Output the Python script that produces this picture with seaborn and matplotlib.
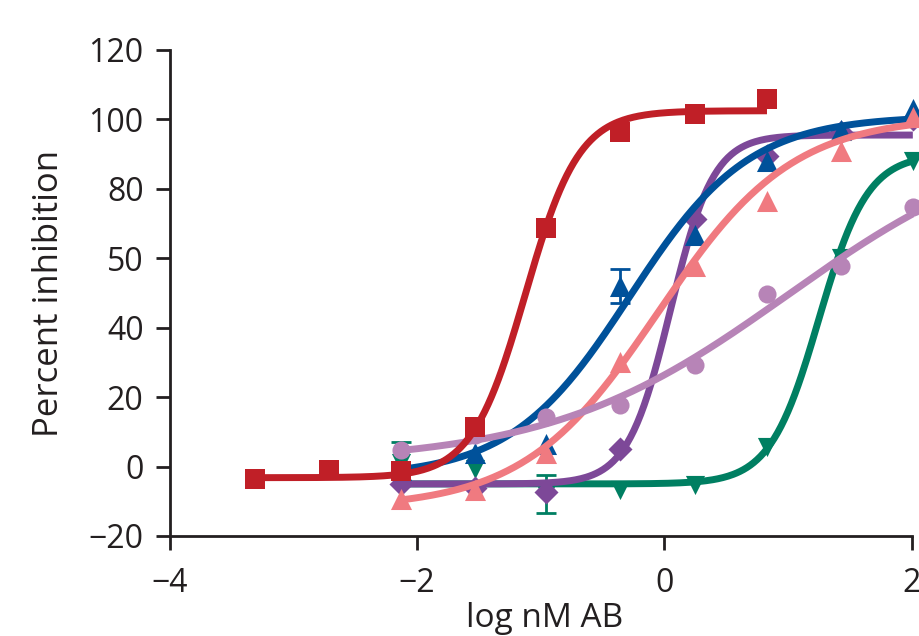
import numpy as np
import pandas as pd
import matplotlib
matplotlib.use("Agg")
import matplotlib.pyplot as plt
import seaborn as sns

# Concentrations (log nM) of the dilution series
x_red = [-3.31, -2.71, -2.13, -1.53, -0.96, -0.36, 0.25, 0.83]
x_std = [-2.13, -1.53, -0.96, -0.36, 0.25, 0.83, 1.43, 2.01]

# Mean percent inhibition per compound
y_red = [-3.5, -1.1, -1.2, 11.4, 68.8, 96.4, 101.6, 105.9]
y_blue = [-1.0, 4.0, 6.5, 52.0, 66.8, 88.0, 97.0, 103.0]
y_purple = [-5.0, -6.3, -7.3, 5.2, 71.4, 89.6, 96.3, 100.0]
y_pink = [-9.2, -6.8, 3.8, 30.1, 57.9, 76.6, 91.0, 100.6]
y_green = [1.0, -0.6, -8.0, -6.8, -5.4, 5.5, 60.0, 88.0]
y_lilac = [4.7, 9.0, 14.3, 17.6, 29.2, 49.8, 57.9, 74.7]

# Standard deviations (only the visible error bars)
err_blue = [0, 0, 0, 5.0, 0, 0, 0, 0]
err_green = [6.0, 0, 5.5, 0, 0, 0, 0, 0]

# Four-parameter logistic fits: bottom, top, logEC50, Hill slope
fit_red = [-3.2, 102.5, -1.125, 2.0]
fit_blue = [-3.0, 101.0, -0.28, 0.9]
fit_purple = [-5.0, 95.5, 0.05, 2.5]
fit_pink = [-12.0, 101.0, -0.05, 0.8]
fit_green = [-5.0, 90.0, 1.25, 2.2]
fit_lilac = [1.0, 98.0, 1.0, 0.45]

y_ticks = [-20, 0, 20, 40, 60, 80, 100, 120]
y_tick_labels = ["\u221220", "0", "20", "40", "50", "80", "100", "120"]
x_ticks = [-4, -2, 0, 2]
x_tick_labels = ["\u22124", "\u22122", "0", "2"]


def logistic(x, p):
    bottom, top, c, h = p
    return bottom + (top - bottom) / (1.0 + 10.0 ** (h * (c - x)))


sns.set_theme(style="ticks")
plt.rcParams["font.family"] = ["Open Sans", "DejaVu Sans"]
ink = "#231f20"

fig = plt.figure(figsize=(9.2, 6.36), dpi=100)
ax = fig.add_axes([170 / 920, 100 / 636, 750 / 920, 486 / 636])

series = [
    # name, x, y, err, fit, colour, marker, size, zorder
    ("green", x_std, y_green, err_green, fit_green, "#007f62", "v", 190, 2),
    ("purple", x_std, y_purple, None, fit_purple, "#7d4898", "D", 150, 3),
    ("blue", x_std, y_blue, err_blue, fit_blue, "#00519a", "^", 230, 4),
    ("pink", x_std, y_pink, None, fit_pink, "#f07a80", "^", 230, 5),
    ("lilac", x_std, y_lilac, None, fit_lilac, "#b784b7", "o", 170, 6),
    ("red", x_red, y_red, None, fit_red, "#c01f27", "s", 200, 7),
]

for name, xs, ys, errs, fit, col, mk, sz, z in series:
    xx = np.linspace(min(xs), max(xs), 300)
    curve = pd.DataFrame({"x": xx, "y": logistic(xx, fit)})
    sns.lineplot(data=curve, x="x", y="y", color=col, lw=5.0, ax=ax,
                 zorder=z, solid_capstyle="butt")
    if errs is not None:
        for xi, yi, ei in zip(xs, ys, errs):
            if ei > 0:
                ax.errorbar([xi], [yi], yerr=[ei], fmt="none", ecolor=col,
                            elinewidth=2.0, capsize=7, capthick=2.0,
                            zorder=z)
    pts = pd.DataFrame({"x": xs, "y": ys})
    sns.scatterplot(data=pts, x="x", y="y", color=col, marker=mk, s=sz,
                    linewidth=0, ax=ax, zorder=z + 0.5, clip_on=False)

ax.set_xlim(-4, 2.068)
ax.set_ylim(-20, 120)
ax.set_xticks(x_ticks)
ax.set_xticklabels(x_tick_labels)
ax.set_yticks(y_ticks)
ax.set_yticklabels(y_tick_labels)

sns.despine(ax=ax)
ax.spines["bottom"].set_bounds(-4, 2)
for s in ("left", "bottom"):
    ax.spines[s].set_linewidth(2.0)
    ax.spines[s].set_color(ink)

ax.tick_params(axis="both", colors=ink, labelcolor=ink, width=2.0,
               length=10, labelsize=23, direction="out")
ax.tick_params(axis="y", pad=9)
ax.tick_params(axis="x", pad=12)

ax.set_xlabel("log nM AB", fontsize=24, color=ink, labelpad=2)
ax.set_ylabel("Percent inhibition", fontsize=25, color=ink, labelpad=16)

fig.savefig("out.png", dpi=100)
